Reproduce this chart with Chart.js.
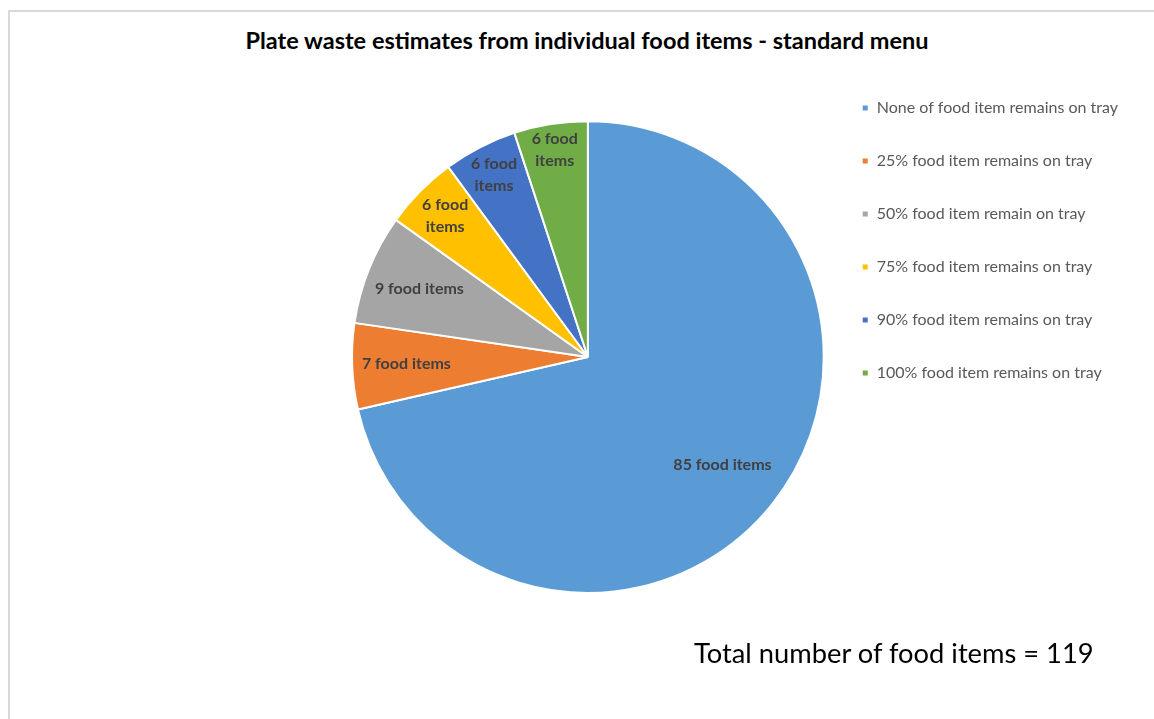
<!DOCTYPE html>
<html>
<head>
<meta charset="utf-8">
<script src="https://cdn.jsdelivr.net/npm/chart.js@4.4.0/dist/chart.umd.min.js"></script>
<style>
  html, body { margin: 0; padding: 0; background: #fff; }
  #wrap { position: relative; width: 1154px; height: 719px; overflow: hidden; }
  #frame { position: absolute; left: 8px; top: 10px; width: 1200px; height: 800px;
           border-top: 2px solid #d9d9d9; border-left: 2px solid #d9d9d9; }
  #title { position: absolute; left: 0; width: 1174px; top: 26px; text-align: center;
           font: bold 23.5px Lato, sans-serif; color: #000; }
  #total { position: absolute; left: 694px; top: 636px; font: 27.3px Lato, sans-serif; color: #000; }
  #myChart { position: absolute; left: 0; top: 0; }
</style>
</head>
<body>
<div id="wrap">
  <div id="frame"></div>
  <div id="title">Plate waste estimates from individual food items - standard menu</div>
  <canvas id="myChart" width="1154" height="719"></canvas>
  <div id="total">Total number of food items = 119</div>
</div>
<script>
var categories = [
  'None of food item remains on tray',
  '25% food item remains on tray',
  '50% food item remain on tray',
  '75% food item remains on tray',
  '90% food item remains on tray',
  '100% food item remains on tray'
];
var itemCounts = [85, 7, 9, 6, 6, 6];
var sliceColors = ['#5B9BD5', '#ED7D31', '#A5A5A5', '#FFC000', '#4472C4', '#70AD47'];

// how far out (fraction of radius) each label sits, like Excel's best fit
var labelRadius = [0.73, 0.77, 0.77, 0.85, 0.87, 0.89];

var sliceLabels = {
  id: 'sliceLabels',
  afterDatasetsDraw: function(chart) {
    var ctx = chart.ctx;
    var meta = chart.getDatasetMeta(0);
    ctx.save();
    ctx.font = 'bold 16px Lato, sans-serif';
    ctx.fillStyle = '#404040';
    ctx.textAlign = 'center';
    ctx.textBaseline = 'middle';
    meta.data.forEach(function(arc, i) {
      var p = arc.getProps(['x', 'y', 'startAngle', 'endAngle', 'outerRadius'], true);
      var mid = (p.startAngle + p.endAngle) / 2;
      var r = p.outerRadius * labelRadius[i];
      var x = p.x + Math.cos(mid) * r;
      var y = p.y + Math.sin(mid) * r;
      var v = itemCounts[i];
      var lines = v < 7 ? [v + ' food', 'items'] : [v + ' food items'];
      var lh = 22;
      lines.forEach(function(t, k) {
        ctx.fillText(t, x, y + (k - (lines.length - 1) / 2) * lh);
      });
    });
    ctx.restore();
  }
};

var chartdata = {
  labels: categories,
  datasets: [
    {
      data: itemCounts,
      backgroundColor: sliceColors,
      borderColor: '#ffffff',
      borderWidth: 2
    }
  ]
};

var graphTarget = document.getElementById('myChart');

var pieGraph = new Chart(graphTarget, {
  type: 'pie',
  data: chartdata,
  options: {
    responsive: false,
    animation: false,
    layout: {
      padding: { top: 63, bottom: 68, left: 351, right: 26 }
    },
    plugins: {
      tooltip: { enabled: false },
      legend: {
        position: 'right',
        align: 'start',
        labels: {
          boxWidth: 7,
          boxHeight: 7,
          padding: 37,
          color: '#595959',
          font: { family: 'Lato', size: 16 }
        }
      }
    }
  },
  plugins: [sliceLabels]
});
</script>
</body>
</html>
